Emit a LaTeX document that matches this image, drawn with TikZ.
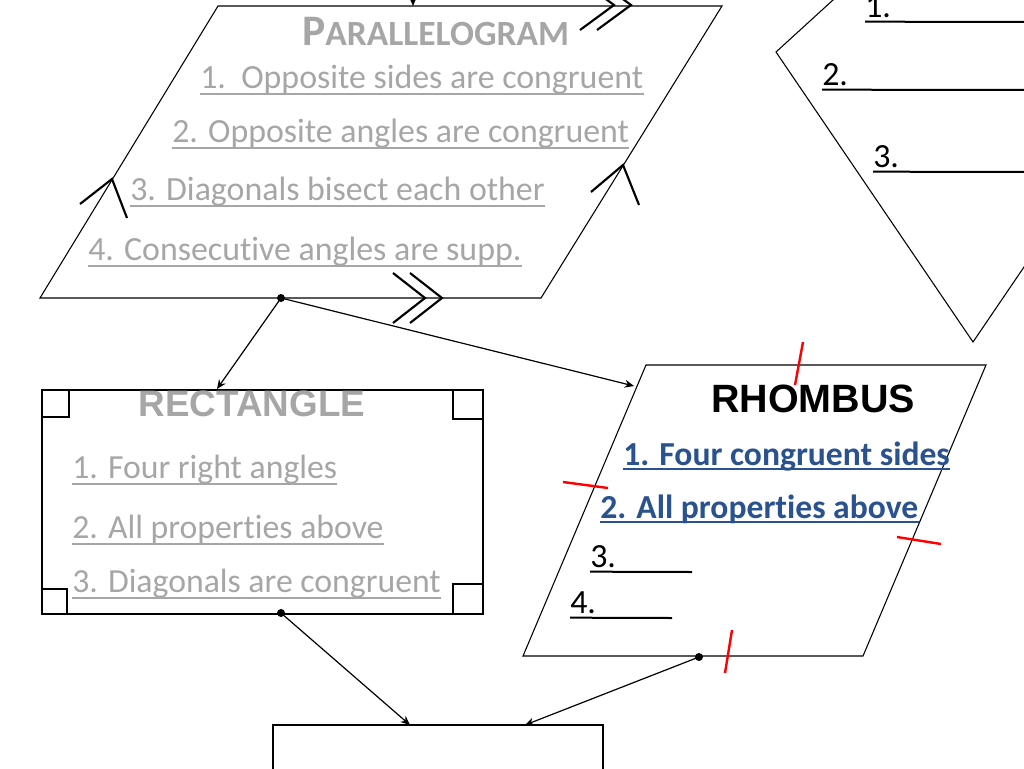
\documentclass[tikz,border=0pt]{standalone}
\usepackage{fontspec}
\setmainfont{Carlito}[Ligatures=NoCommon]
\newfontfamily\arialfont{Liberation Sans}
\usetikzlibrary{arrows.meta}
\tikzset{>=Stealth}
\definecolor{txtgray}{RGB}{166,166,166}
\definecolor{rhblue}{RGB}{41,82,142}
\tikzset{
  outline/.style={line width=0.8pt},
  chev/.style={line width=1.6pt},
  redtick/.style={red, line width=1.8pt},
  conn/.style={line width=0.9pt, -{Stealth[length=7pt,width=6pt]}},
  item/.style={anchor=base west, inner sep=0pt, font=\fontsize{25.4}{27}\selectfont},
  bigitem/.style={anchor=base west, inner sep=0pt, font=\fontsize{25.3}{27}\selectfont},
  uline/.style={line width=1.5pt}
}

\begin{document}
\begin{tikzpicture}[x=0.75pt,y=-0.75pt]
\useasboundingbox (0,0) rectangle (1024,768);
\clip (0,0) rectangle (1024,768);

\draw[outline]
  (218,6) coordinate (PA) --
  (722,6) coordinate (PB) --
  (541,298) coordinate (PC) --
  (40,298) coordinate (PD) -- cycle;

\draw[outline] (890,-52) -- (776,52) coordinate (KL) -- (973,342) coordinate (KB) -- (1075,192);

\draw[outline]
  (646,365) coordinate (HA) --
  (986,365) coordinate (HB) --
  (863,656) coordinate (HC) --
  (523,656) coordinate (HD) -- cycle;

\draw[outline] (42,390) rectangle (483,614);
\draw[outline] (42,390) rectangle (69,417);
\draw[outline] (453,390) rectangle (483,419);
\draw[outline] (42,589) rectangle (67,614);
\draw[outline] (453,584) rectangle (483,614);

\draw[outline] (273,800) -- (273,725) coordinate (SA) -- (603,725) coordinate (SB) -- (603,800);

\draw[chev] (580,-20) -- (614,5) -- (580,30);
\draw[chev] (597,-20) -- (631,5) -- (597,30);
\draw[chev] (393,273) -- (425,298) -- (393,323);
\draw[chev] (410,273) -- (442,298) -- (410,323);
\draw[chev] (80,204) -- (112,179) -- (127,218);
\draw[chev] (591,192) -- (623,165) -- (639,205);

\draw[redtick] (803,342) -- (795,385);
\draw[redtick] (563,482) -- (608,488);
\draw[redtick] (897,537) -- (941,544);
\draw[redtick] (732,630) -- (725,673);

\node[anchor=base west, inner sep=0pt, text=txtgray] (ptitle) at (302,45)
  {\bfseries\fontsize{32.7}{34}\selectfont P\fontsize{26.6}{28}\selectfont ARALLELOGRAM};
\node[item, text=txtgray] (l1) at (200,88) {1.\ \ Opposite sides are congruent};
\node[item, text=txtgray] (l2) at (172,142) {2. Opposite angles are congruent};
\node[item, text=txtgray] (l3) at (130,200) {3. Diagonals bisect each other};
\node[item, text=txtgray] (l4) at (88,260) {4. Consecutive angles are supp.};

\node[anchor=base, inner sep=0pt, text=txtgray, font=\arialfont\bfseries\fontsize{27.6}{29}\selectfont] (rtitle) at (252,416) {RECTANGLE};
\node[bigitem, text=txtgray] (r1) at (72,478) {1. Four right angles};
\node[bigitem, text=txtgray] (r2) at (72,538) {2. All properties above};
\node[bigitem, text=txtgray] (r3) at (72,592) {3. Diagonals are congruent};

\foreach \n in {l1,l2,l3,l4,r1,r2,r3}
  \draw[uline, txtgray] ([yshift=-4.5pt]\n.base west) -- ([yshift=-4.5pt]\n.base east);

\node[anchor=base, inner sep=0pt, font=\arialfont\bfseries\fontsize{29.6}{31}\selectfont] (htitle) at (813,412) {RHOMBUS};
\node[bigitem, text=rhblue, font=\bfseries\fontsize{25.2}{27}\selectfont] (h1) at (623,465) {1. Four congruent sides};
\node[bigitem, text=rhblue, font=\bfseries\fontsize{25.2}{27}\selectfont] (h2) at (600,518) {2. All properties above};
\foreach \n in {h1,h2}
  \draw[uline, rhblue] ([yshift=-3pt]\n.base west) -- ([yshift=-3pt]\n.base east);
\node[item] (h3) at (590,567) {3.};
\node[item] (h4) at (570,613) {4.};
\draw[uline] ([yshift=-3.5pt]h3.base west) -- (692,572);
\draw[uline] ([yshift=-3.5pt]h4.base west) -- (672,618);

\node[item] (k1) at (865,17) {1.};
\node[item] (k2) at (822,85) {2.};
\node[item] (k3) at (873,167) {3.};
\draw[uline] ([yshift=-3.5pt]k1.base west) -- (1030,22);
\draw[uline] ([yshift=-3.5pt]k2.base west) -- (1030,90);
\draw[uline] ([yshift=-3.5pt]k3.base west) -- (1030,172);

\coordinate (ptop) at (413,6);
\coordinate (pdot) at (281,298);
\coordinate (rtop) at (217,389);
\coordinate (hleft) at (634,386);
\coordinate (rdot) at (281,613);
\coordinate (hdot) at (699,657);
\coordinate (above) at (413,-40);

\draw[conn] (above) -- (ptop);
\draw[conn] (pdot) -- (rtop);
\draw[conn] (pdot) -- (hleft);
\draw[conn] (rdot) -- (SA -| 410,0);
\draw[conn] (hdot) -- (SA -| 525,0);

\foreach \point in {pdot,rdot,hdot}
  \fill (\point) circle(3pt);
\end{tikzpicture}
\end{document}
